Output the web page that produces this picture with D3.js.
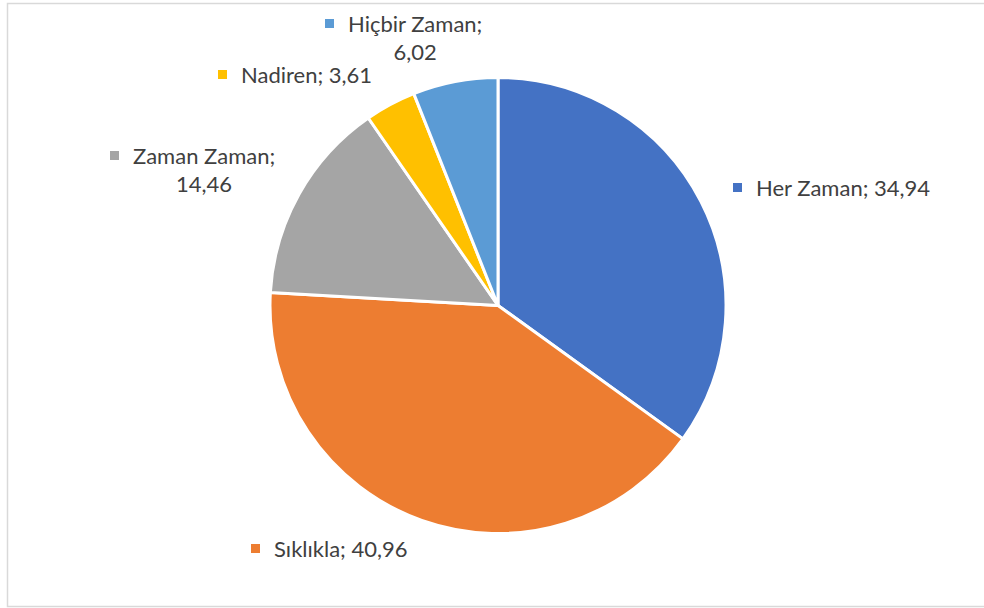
<!DOCTYPE html>
<html>
<head>
<meta charset="utf-8">
<script src="https://cdn.jsdelivr.net/npm/d3@7"></script>
<style>
  body { margin: 0; background: #fff; }
  svg { display: block; }
  .lbl { font-family: Lato, "Open Sans", sans-serif; font-size: 22px; fill: #404040; }
</style>
</head>
<body>
<div id="viz"></div>
<script>
var width = 984,
    height = 608;

// chart data
var categories = ['Her Zaman', 'Sıklıkla', 'Zaman Zaman', 'Nadiren', 'Hiçbir Zaman'];
var values = [34.94, 40.96, 14.46, 3.61, 6.02];
var valueLabels = ['34,94', '40,96', '14,46', '3,61', '6,02'];
var colors = ['#4472C4', '#ED7D31', '#A5A5A5', '#FFC000', '#5B9BD5'];

// where each data label sits (left of key square, baseline of first line) and how it wraps
var labelPos = [
  {x: 733, y: 196, wrap: false},
  {x: 251, y: 557, wrap: false},
  {x: 110, y: 164, wrap: true},
  {x: 218, y: 83, wrap: false},
  {x: 325, y: 32, wrap: true}
];

var cx = 498, cy = 305.5, radius = 228;

var svg = d3.select('#viz').append('svg')
  .attr('width', width)
  .attr('height', height);

// chart area border
svg.append('rect')
  .attr('x', 7.5)
  .attr('y', 3.5)
  .attr('width', 990)
  .attr('height', 603)
  .attr('fill', '#fff')
  .attr('stroke', '#d9d9d9')
  .attr('stroke-width', 1.5);

var data = categories.map(function(c, i) {
  return {name: c, value: values[i], label: valueLabels[i], color: colors[i], pos: labelPos[i]};
});

var pie = d3.pie()
  .sort(null)
  .value(function(d) { return d.value; });

var arc = d3.arc()
  .innerRadius(0)
  .outerRadius(radius);

var g = svg.append('g')
  .attr('transform', 'translate(' + cx + ',' + cy + ')');

g.selectAll('path')
  .data(pie(data))
  .enter().append('path')
  .attr('d', arc)
  .attr('fill', function(d) { return d.data.color; })
  .attr('stroke', '#fff')
  .attr('stroke-width', 3)
  .attr('stroke-linejoin', 'round');

// data labels with legend key
var labels = svg.selectAll('g.label')
  .data(data)
  .enter().append('g')
  .attr('class', 'label')
  .attr('transform', function(d) { return 'translate(' + d.pos.x + ',' + d.pos.y + ')'; });

labels.append('rect')
  .attr('x', 0)
  .attr('y', -13)
  .attr('width', 9)
  .attr('height', 9)
  .attr('fill', function(d) { return d.color; });

labels.each(function(d) {
  var sel = d3.select(this);
  if (!d.pos.wrap) {
    sel.append('text')
      .attr('class', 'lbl')
      .attr('x', 23)
      .text(d.name + '; ' + d.label);
  } else {
    var t1 = sel.append('text')
      .attr('class', 'lbl')
      .attr('x', 23)
      .text(d.name + ';');
    var w = t1.node().getComputedTextLength();
    sel.append('text')
      .attr('class', 'lbl')
      .attr('x', 23 + w / 2)
      .attr('y', 28)
      .attr('text-anchor', 'middle')
      .text(d.label);
  }
});
</script>
</body>
</html>
